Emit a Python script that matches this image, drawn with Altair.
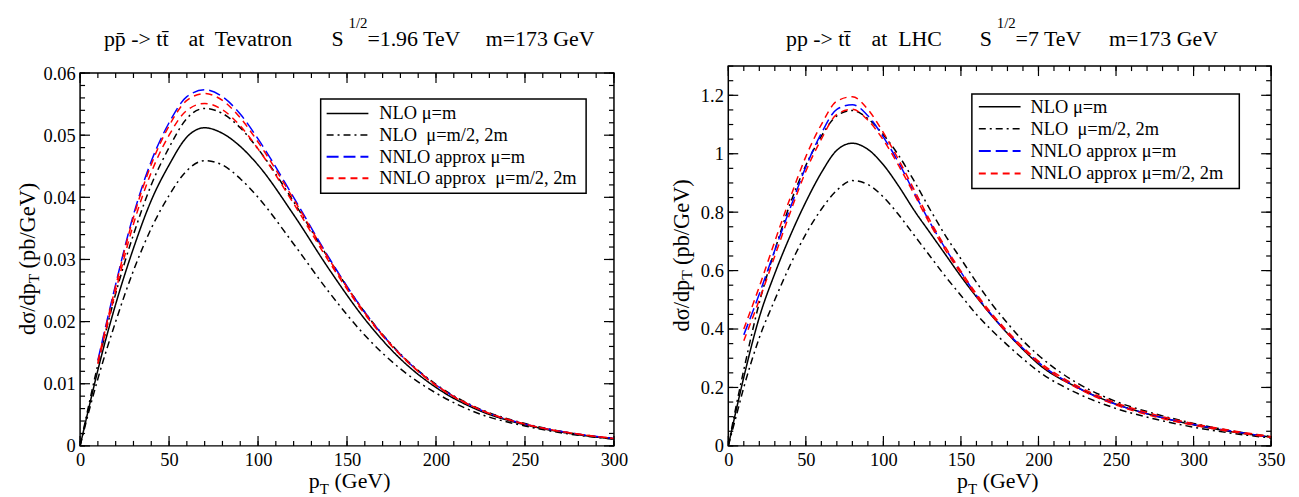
import altair as alt
import pandas as pd

FONT = "Liberation Serif"

# ---------------- Tevatron (left panel) ----------------
tev_pt = [0, 5, 10, 20, 30, 40, 50, 60, 70, 80, 90, 100, 120, 140, 160, 180, 200, 225, 250, 275, 300]
tev_nlo_m = [0, 0.0062, 0.0122, 0.0228, 0.0318, 0.0395, 0.0452, 0.0497, 0.0512, 0.0503, 0.0482, 0.0452,
             0.0372, 0.0284, 0.0204, 0.0140, 0.0094, 0.0056, 0.0034, 0.0020, 0.0011]
tev_nlo_half = [0, 0.0067, 0.0131, 0.0245, 0.0340, 0.0420, 0.0480, 0.0527, 0.0543, 0.0535, 0.0512, 0.0478,
                0.0393, 0.0300, 0.0215, 0.0148, 0.0099, 0.0059, 0.0036, 0.0021, 0.0012]
tev_nlo_2m = [0, 0.0056, 0.0108, 0.0200, 0.0282, 0.0350, 0.0403, 0.0443, 0.0459, 0.0452, 0.0430, 0.0400,
              0.0325, 0.0247, 0.0178, 0.0124, 0.0085, 0.0051, 0.0032, 0.0019, 0.0011]
tev_nnlo_pt = [10, 20, 30, 40, 50, 60, 70, 80, 90, 100, 120, 140, 160, 180, 200, 225, 250, 275, 300]
tev_nnlo_m = [0.0138, 0.0260, 0.0372, 0.0458, 0.0520, 0.0562, 0.0573, 0.0562, 0.0534, 0.0494, 0.0400,
              0.0302, 0.0215, 0.0147, 0.0098, 0.0058, 0.0035, 0.0021, 0.0012]
tev_nnlo_half = [0.0136, 0.0257, 0.0368, 0.0453, 0.0515, 0.0556, 0.0567, 0.0556, 0.0528, 0.0489, 0.0397,
                 0.0300, 0.0214, 0.0147, 0.0098, 0.0058, 0.0035, 0.0021, 0.0012]
tev_nnlo_2m = [0.0132, 0.0249, 0.0357, 0.0440, 0.0500, 0.0540, 0.0551, 0.0541, 0.0515, 0.0478, 0.0390,
               0.0296, 0.0212, 0.0146, 0.0097, 0.0058, 0.0035, 0.0021, 0.0012]

# ---------------- LHC (right panel) ----------------
lhc_pt = [0, 5, 10, 20, 30, 40, 50, 60, 70, 80, 90, 100, 110, 120, 130, 140, 150, 160, 170, 180, 190, 200,
          225, 250, 275, 300, 325, 350]
lhc_nlo_m = [0, 0.12, 0.235, 0.44, 0.59, 0.72, 0.835, 0.935, 1.012, 1.036, 1.015, 0.962, 0.888, 0.805, 0.73,
             0.655, 0.58, 0.51, 0.445, 0.385, 0.33, 0.28, 0.20, 0.143, 0.103, 0.072, 0.048, 0.03]
lhc_nlo_half = [0, 0.135, 0.26, 0.49, 0.67, 0.83, 0.96, 1.06, 1.13, 1.148, 1.12, 1.065, 0.993, 0.905, 0.81,
                0.72, 0.64, 0.56, 0.485, 0.42, 0.36, 0.31, 0.215, 0.152, 0.11, 0.077, 0.051, 0.032]
lhc_nlo_2m = [0, 0.10, 0.20, 0.37, 0.50, 0.62, 0.725, 0.81, 0.875, 0.908, 0.895, 0.852, 0.79, 0.72, 0.65,
              0.58, 0.515, 0.45, 0.395, 0.345, 0.298, 0.255, 0.18, 0.128, 0.092, 0.064, 0.043, 0.027]
lhc_nnlo_pt = [10, 20, 30, 40, 50, 60, 70, 80, 90, 100, 110, 120, 130, 140, 150, 160, 170, 180, 190, 200,
               225, 250, 275, 300, 325, 350]
lhc_nnlo_m = [0.38, 0.52, 0.67, 0.815, 0.955, 1.07, 1.152, 1.168, 1.13, 1.057, 0.968, 0.865, 0.765, 0.675,
              0.595, 0.515, 0.447, 0.387, 0.334, 0.286, 0.20, 0.142, 0.103, 0.073, 0.05, 0.03]
lhc_nnlo_half = [0.40, 0.545, 0.70, 0.85, 0.99, 1.10, 1.18, 1.195, 1.152, 1.072, 0.978, 0.875, 0.772, 0.68,
                 0.598, 0.52, 0.452, 0.392, 0.338, 0.29, 0.205, 0.147, 0.107, 0.076, 0.052, 0.032]
lhc_nnlo_2m = [0.36, 0.50, 0.65, 0.80, 0.94, 1.05, 1.135, 1.152, 1.115, 1.047, 0.958, 0.86, 0.76, 0.67, 0.59,
               0.512, 0.445, 0.385, 0.332, 0.284, 0.198, 0.14, 0.1, 0.071, 0.048, 0.029]

NB = "\u00a0"
series = ["NLO m", "NLO m/2,2m", "NNLO m", "NNLO m/2,2m"]
tev_labels = ["NLO μ=m", "NLO" + NB + " μ=m/2, 2m", "NNLO approx μ=m", "NNLO approx" + NB + " μ=m/2, 2m"]
lhc_labels = ["NLO μ=m", "NLO" + NB + " μ=m/2, 2m", "NNLO approx μ=m", "NNLO approx μ=m/2, 2m"]
series_colors = ["black", "black", "#0000ff", "#ff0000"]
series_dashes = [[1, 0], [7, 4, 2, 4], [12, 5], [7, 5]]
series_widths = [1.5, 1.5, 2, 2]

tev_title = [("pp\u0304 -> tt\u0304", 24), ("at" + NB + " Tevatron", 109), ("S", 253),
             ("=1.96 TeV", 289), ("m=173 GeV", 408)]
lhc_title = [("pp -> tt\u0304", 58), ("at" + NB + " LHC", 144), ("S", 253),
             ("=7 TeV", 289), ("m=173 GeV", 383)]


def make_df(parts):
    rows = []
    for cid, sidx, xs, vs in parts:
        for x, v in zip(xs, vs):
            rows.append({"curve": cid, "series": series[sidx], "pT": x, "v": v})
    return pd.DataFrame(rows)


tev_df = make_df([
    ("a", 0, tev_pt, tev_nlo_m), ("b", 1, tev_pt, tev_nlo_half), ("c", 1, tev_pt, tev_nlo_2m),
    ("d", 2, tev_nnlo_pt, tev_nnlo_m), ("e", 3, tev_nnlo_pt, tev_nnlo_half), ("f", 3, tev_nnlo_pt, tev_nnlo_2m),
])
lhc_df = make_df([
    ("a", 0, lhc_pt, lhc_nlo_m), ("b", 1, lhc_pt, lhc_nlo_half), ("c", 1, lhc_pt, lhc_nlo_2m),
    ("d", 2, lhc_nnlo_pt, lhc_nnlo_m), ("e", 3, lhc_nnlo_pt, lhc_nnlo_half), ("f", 3, lhc_nnlo_pt, lhc_nnlo_2m),
])

ONE = alt.Data(values=[{}])


def txt(s, x, y, size=22, angle=0, baseline="alphabetic", align="left"):
    return alt.Chart(ONE).mark_text(
        text=s, fontSize=size, angle=angle, baseline=baseline, align=align,
        font=FONT, color="black").encode(x=alt.value(x), y=alt.value(y))


def legend_layers(labels, box, rows_y, sym_x, text_x):
    out = [alt.Chart(ONE).mark_rect(fill="white", stroke="black", strokeWidth=1.5).encode(
        x=alt.value(box[0]), x2=alt.value(box[1]), y=alt.value(box[2]), y2=alt.value(box[3]))]
    for lab, ry, c, d, w in zip(labels, rows_y, series_colors, series_dashes, series_widths):
        out.append(alt.Chart(ONE).mark_rule(color=c, strokeDash=d, strokeWidth=w).encode(
            x=alt.value(sym_x[0]), x2=alt.value(sym_x[1]), y=alt.value(ry), y2=alt.value(ry)))
        out.append(txt(lab, text_x, ry, size=18.5, baseline="middle"))
    return out


def panel(df, W, H, xmax, ymax, xmajor, xminor, ymajor, yminor, leg,
          title_parts, title_base, sup_base, ytitle_x):
    xs = alt.Scale(domain=[0, xmax], nice=False, zero=False)
    ys = alt.Scale(domain=[0, ymax], nice=False, zero=False)
    ax_common = dict(title=None, ticks=False, domain=False, grid=False, labelFont=FONT,
                     labelFontSize=18.5, labelColor="black", labelPadding=5,
                     labelFlush=False, labelOverlap=False)
    xax = alt.Axis(values=xmajor, format="d", **ax_common)
    yax = alt.Axis(values=ymajor, format=".2~f", **ax_common)
    lines = alt.Chart(df).mark_line(interpolate="monotone", clip=True).encode(
        x=alt.X("pT:Q", scale=xs, axis=xax),
        y=alt.Y("v:Q", scale=ys, axis=yax),
        color=alt.Color("series:N", scale=alt.Scale(domain=series, range=series_colors), legend=None),
        strokeDash=alt.StrokeDash("series:N", scale=alt.Scale(domain=series, range=series_dashes),
                                  legend=None),
        strokeWidth=alt.StrokeWidth("series:N", scale=alt.Scale(domain=series, range=series_widths),
                                    legend=None),
        detail="curve:N",
    )
    layers = [lines]
    for vals, size in ((xmajor, 10), (xminor, 5)):
        base = alt.Chart(pd.DataFrame({"pT": vals})).mark_rule(color="black", strokeWidth=1.2)
        layers.append(base.encode(x=alt.X("pT:Q", scale=xs, axis=xax),
                                  y=alt.value(H), y2=alt.value(H - size)))
        layers.append(base.encode(x=alt.X("pT:Q", scale=xs, axis=xax),
                                  y=alt.value(0), y2=alt.value(size)))
    for vals, size in ((ymajor, 10), (yminor, 5)):
        base = alt.Chart(pd.DataFrame({"v": vals})).mark_rule(color="black", strokeWidth=1.2)
        layers.append(base.encode(y=alt.Y("v:Q", scale=ys, axis=yax),
                                  x=alt.value(0), x2=alt.value(size)))
        layers.append(base.encode(y=alt.Y("v:Q", scale=ys, axis=yax),
                                  x=alt.value(W), x2=alt.value(W - size)))
    layers += legend_layers(*leg)
    # title
    for s, x in title_parts:
        layers.append(txt(s, x, title_base))
    layers.append(txt("1/2", 270, sup_base, size=15))
    # x title
    layers.append(txt("p", 230, H + 42))
    layers.append(txt("T", 241, H + 48, size=15))
    layers.append(txt("(GeV)", 256, H + 42))
    # y title (rotated)
    y0 = H / 2 + 76
    layers.append(txt("dσ/dp", ytitle_x, y0, size=22.5, angle=270, baseline="middle"))
    layers.append(txt("T", ytitle_x + 6, y0 - 52, size=15.5, angle=270, baseline="middle"))
    layers.append(txt("(pb/GeV)", ytitle_x, y0 - 67, size=22.5, angle=270, baseline="middle"))
    return alt.layer(*layers).properties(width=W, height=H)


left = panel(tev_df, 537, 375, 300, 0.06,
             [0, 50, 100, 150, 200, 250, 300], list(range(0, 301, 10)),
             [0, 0.01, 0.02, 0.03, 0.04, 0.05, 0.06], [round(i * 0.002, 3) for i in range(31)],
             (tev_labels, (242, 509, 26, 121), (40.7, 62.4, 84.1, 105.8), (248, 290), 301),
             tev_title, -27, -45, -52.5)
right = panel(lhc_df, 546, 382, 350, 1.3,
              [0, 50, 100, 150, 200, 250, 300, 350], list(range(0, 351, 10)),
              [0, 0.2, 0.4, 0.6, 0.8, 1.0, 1.2], [round(i * 0.05, 2) for i in range(27)],
              (lhc_labels, (245, 514, 28, 123), (41, 63, 85.5, 108), (252, 294), 304),
              lhc_title, -20, -38, -47)


def spacer():
    return alt.Chart(ONE).mark_point(size=0, opacity=0).encode(
        x=alt.value(0), y=alt.value(0)
    ).properties(width=1, height=1, view=alt.ViewBackground(strokeOpacity=0, strokeWidth=0))


chart = alt.hconcat(
    alt.vconcat(spacer(), left, spacing=0),
    alt.vconcat(spacer(), right, spacing=0),
    spacing=41,
).configure_view(stroke="black", strokeWidth=1.5).properties(
    padding={"left": 7.5, "top": 5, "right": 5, "bottom": 0}
)

chart.save("out.html", embed_options={"renderer": "svg", "actions": False})
